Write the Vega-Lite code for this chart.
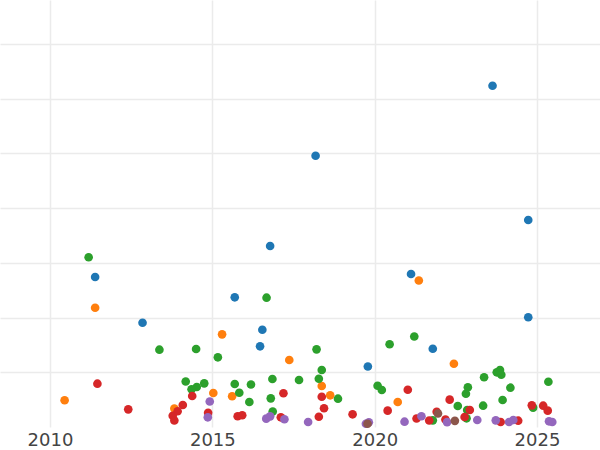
{
  "$schema": "https://vega.github.io/schema/vega-lite/v6.json",
  "width": 600,
  "height": 427,
  "autosize": {"type": "none"},
  "padding": {"left": 0, "top": 0, "right": 0, "bottom": 23},
  "background": "white",
  "config": {"view": {"stroke": null}},
  "data": {"values": [
    {"year": 2023.63, "value": 6.234, "series": "A"},
    {"year": 2018.18, "value": 4.955, "series": "A"},
    {"year": 2024.73, "value": 3.781, "series": "A"},
    {"year": 2016.78, "value": 3.306, "series": "A"},
    {"year": 2011.39, "value": 2.740, "series": "A"},
    {"year": 2021.12, "value": 2.795, "series": "A"},
    {"year": 2015.69, "value": 2.369, "series": "A"},
    {"year": 2012.85, "value": 1.905, "series": "A"},
    {"year": 2024.73, "value": 2.004, "series": "A"},
    {"year": 2016.54, "value": 1.777, "series": "A"},
    {"year": 2016.47, "value": 1.474, "series": "A"},
    {"year": 2021.79, "value": 1.430, "series": "A"},
    {"year": 2019.79, "value": 1.105, "series": "A"},
    {"year": 2011.39, "value": 2.179, "series": "B"},
    {"year": 2021.36, "value": 2.676, "series": "B"},
    {"year": 2015.30, "value": 1.693, "series": "B"},
    {"year": 2017.37, "value": 1.224, "series": "B"},
    {"year": 2022.44, "value": 1.156, "series": "B"},
    {"year": 2010.45, "value": 0.488, "series": "B"},
    {"year": 2015.03, "value": 0.621, "series": "B"},
    {"year": 2015.61, "value": 0.561, "series": "B"},
    {"year": 2013.83, "value": 0.338, "series": "B"},
    {"year": 2018.37, "value": 0.749, "series": "B"},
    {"year": 2018.63, "value": 0.579, "series": "B"},
    {"year": 2020.71, "value": 0.457, "series": "B"},
    {"year": 2011.19, "value": 3.100, "series": "C"},
    {"year": 2016.67, "value": 2.362, "series": "C"},
    {"year": 2013.37, "value": 1.412, "series": "C"},
    {"year": 2014.50, "value": 1.425, "series": "C"},
    {"year": 2015.17, "value": 1.273, "series": "C"},
    {"year": 2018.21, "value": 1.419, "series": "C"},
    {"year": 2020.46, "value": 1.512, "series": "C"},
    {"year": 2021.22, "value": 1.653, "series": "C"},
    {"year": 2018.37, "value": 1.041, "series": "C"},
    {"year": 2014.18, "value": 0.831, "series": "C"},
    {"year": 2014.75, "value": 0.798, "series": "C"},
    {"year": 2014.52, "value": 0.731, "series": "C"},
    {"year": 2014.36, "value": 0.689, "series": "C"},
    {"year": 2015.69, "value": 0.785, "series": "C"},
    {"year": 2016.19, "value": 0.776, "series": "C"},
    {"year": 2015.83, "value": 0.626, "series": "C"},
    {"year": 2016.14, "value": 0.457, "series": "C"},
    {"year": 2016.85, "value": 0.877, "series": "C"},
    {"year": 2017.67, "value": 0.858, "series": "C"},
    {"year": 2016.80, "value": 0.524, "series": "C"},
    {"year": 2016.86, "value": 0.283, "series": "C"},
    {"year": 2018.28, "value": 0.882, "series": "C"},
    {"year": 2018.87, "value": 0.517, "series": "C"},
    {"year": 2020.09, "value": 0.754, "series": "C"},
    {"year": 2020.22, "value": 0.676, "series": "C"},
    {"year": 2023.37, "value": 0.908, "series": "C"},
    {"year": 2023.76, "value": 0.999, "series": "C"},
    {"year": 2023.86, "value": 1.041, "series": "C"},
    {"year": 2023.90, "value": 0.955, "series": "C"},
    {"year": 2025.35, "value": 0.827, "series": "C"},
    {"year": 2022.87, "value": 0.725, "series": "C"},
    {"year": 2022.81, "value": 0.608, "series": "C"},
    {"year": 2024.18, "value": 0.718, "series": "C"},
    {"year": 2023.94, "value": 0.493, "series": "C"},
    {"year": 2022.56, "value": 0.384, "series": "C"},
    {"year": 2023.34, "value": 0.389, "series": "C"},
    {"year": 2022.85, "value": 0.311, "series": "C"},
    {"year": 2022.83, "value": 0.159, "series": "C"},
    {"year": 2024.88, "value": 0.353, "series": "C"},
    {"year": 2021.79, "value": 0.122, "series": "C"},
    {"year": 2011.46, "value": 0.791, "series": "D"},
    {"year": 2012.41, "value": 0.323, "series": "D"},
    {"year": 2014.38, "value": 0.566, "series": "D"},
    {"year": 2014.09, "value": 0.402, "series": "D"},
    {"year": 2013.93, "value": 0.287, "series": "D"},
    {"year": 2013.78, "value": 0.205, "series": "D"},
    {"year": 2013.83, "value": 0.119, "series": "D"},
    {"year": 2014.87, "value": 0.259, "series": "D"},
    {"year": 2015.78, "value": 0.197, "series": "D"},
    {"year": 2015.92, "value": 0.214, "series": "D"},
    {"year": 2017.19, "value": 0.617, "series": "D"},
    {"year": 2017.11, "value": 0.177, "series": "D"},
    {"year": 2018.37, "value": 0.553, "series": "D"},
    {"year": 2018.44, "value": 0.342, "series": "D"},
    {"year": 2018.28, "value": 0.188, "series": "D"},
    {"year": 2019.32, "value": 0.232, "series": "D"},
    {"year": 2021.02, "value": 0.681, "series": "D"},
    {"year": 2020.40, "value": 0.298, "series": "D"},
    {"year": 2021.29, "value": 0.155, "series": "D"},
    {"year": 2021.68, "value": 0.119, "series": "D"},
    {"year": 2021.91, "value": 0.279, "series": "D"},
    {"year": 2022.31, "value": 0.499, "series": "D"},
    {"year": 2022.18, "value": 0.137, "series": "D"},
    {"year": 2022.93, "value": 0.311, "series": "D"},
    {"year": 2022.77, "value": 0.183, "series": "D"},
    {"year": 2023.88, "value": 0.091, "series": "D"},
    {"year": 2024.42, "value": 0.115, "series": "D"},
    {"year": 2024.84, "value": 0.396, "series": "D"},
    {"year": 2025.19, "value": 0.389, "series": "D"},
    {"year": 2025.33, "value": 0.298, "series": "D"},
    {"year": 2014.92, "value": 0.466, "series": "E"},
    {"year": 2014.86, "value": 0.177, "series": "E"},
    {"year": 2016.78, "value": 0.195, "series": "E"},
    {"year": 2016.66, "value": 0.152, "series": "E"},
    {"year": 2017.22, "value": 0.141, "series": "E"},
    {"year": 2017.95, "value": 0.091, "series": "E"},
    {"year": 2019.73, "value": 0.060, "series": "E"},
    {"year": 2019.82, "value": 0.086, "series": "E"},
    {"year": 2020.92, "value": 0.097, "series": "E"},
    {"year": 2021.44, "value": 0.197, "series": "E"},
    {"year": 2022.23, "value": 0.088, "series": "E"},
    {"year": 2023.16, "value": 0.128, "series": "E"},
    {"year": 2023.73, "value": 0.122, "series": "E"},
    {"year": 2024.14, "value": 0.091, "series": "E"},
    {"year": 2024.27, "value": 0.128, "series": "E"},
    {"year": 2025.37, "value": 0.104, "series": "E"},
    {"year": 2025.47, "value": 0.091, "series": "E"},
    {"year": 2019.78, "value": 0.060, "series": "F"},
    {"year": 2021.95, "value": 0.247, "series": "F"},
    {"year": 2022.47, "value": 0.113, "series": "F"}
  ]},
  "mark": {"type": "point", "filled": true, "opacity": 1, "size": 75},
  "encoding": {
    "x": {
      "field": "year", "type": "quantitative",
      "scale": {"domain": [2008.46, 2026.94], "nice": false, "zero": false},
      "axis": {
        "title": null, "values": [2010, 2015, 2020, 2025], "format": "d",
        "domain": false, "ticks": false, "grid": true,
        "gridColor": "#ebebeb", "gridWidth": 1.5,
        "labelFont": "DejaVu Sans", "labelFontSize": 18, "labelColor": "#444444",
        "labelPadding": 4
      }
    },
    "y": {
      "field": "value", "type": "quantitative",
      "scale": {"domain": [0, 7.8], "nice": false, "zero": true},
      "axis": {
        "title": null, "values": [1, 2, 3, 4, 5, 6, 7],
        "labels": false, "domain": false, "ticks": false, "grid": true,
        "gridColor": "#ebebeb", "gridWidth": 1.5
      }
    },
    "color": {
      "field": "series", "type": "nominal", "legend": null,
      "scale": {"domain": ["A", "B", "C", "D", "E", "F"],
                "range": ["#1f77b4", "#ff7f0e", "#2ca02c", "#d62728", "#9467bd", "#8c564b"]}
    }
  }
}
